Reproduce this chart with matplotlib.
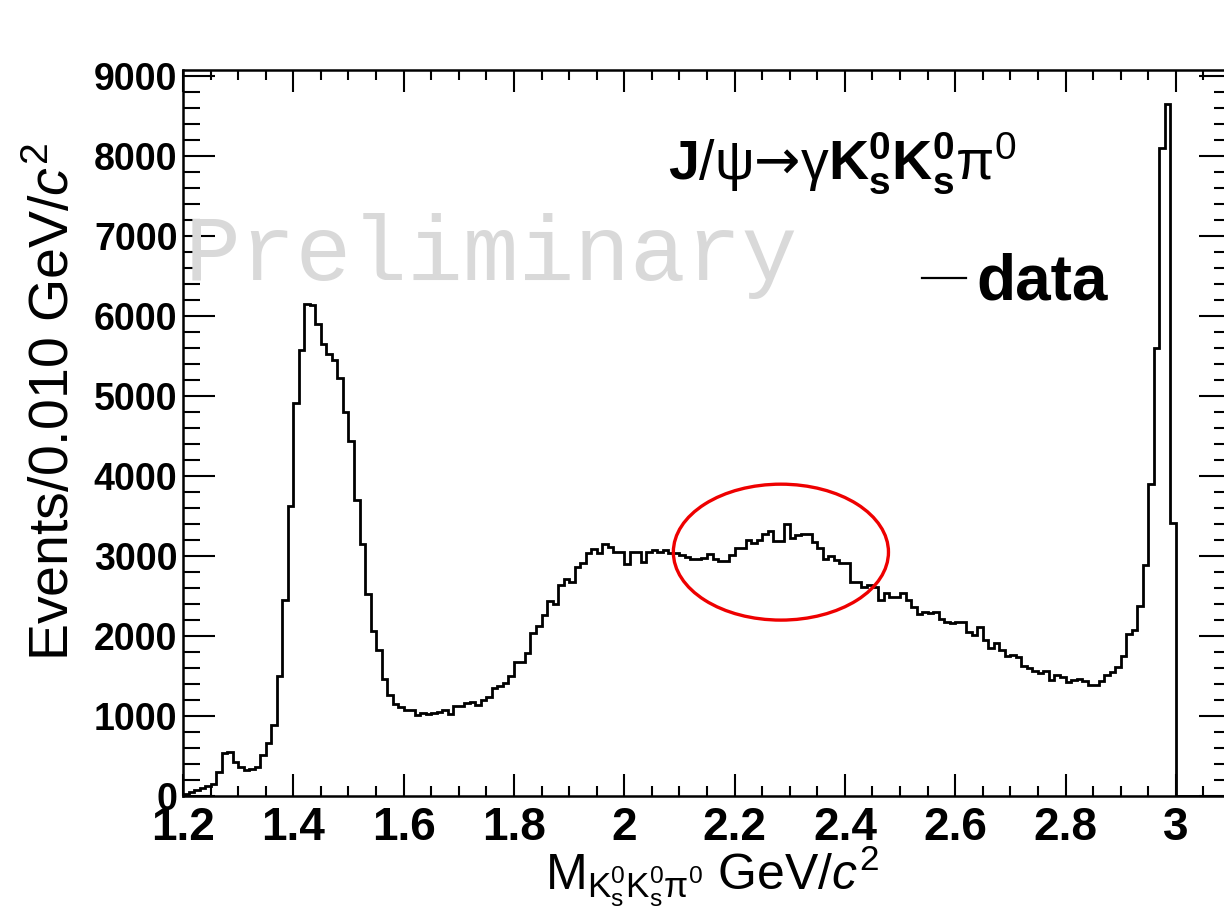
import numpy as np
import matplotlib
matplotlib.use("Agg")
import matplotlib.pyplot as plt
from matplotlib.ticker import MultipleLocator
from matplotlib.patches import Ellipse
from matplotlib.lines import Line2D

plt.rcParams["font.family"] = ["Liberation Sans", "DejaVu Sans"]
plt.rcParams["mathtext.fontset"] = "custom"
plt.rcParams["mathtext.rm"] = "Liberation Sans"
plt.rcParams["mathtext.it"] = "Liberation Sans:italic"
plt.rcParams["mathtext.bf"] = "Liberation Sans:bold"

# M(KsKspi0) histogram, 0.010 GeV bins starting at 1.20 GeV
bin_start = 1.20
bin_width = 0.01
counts = [
    30, 45, 75, 96, 130, 146, 304, 533, 554, 429,
    358, 325, 337, 358, 512, 658, 887, 1504, 2450, 3625,
    4920, 5580, 6150, 6140, 5900, 5650, 5530, 5450, 5230, 4800,
    4440, 3700, 3150, 2530, 2067, 1825, 1458, 1263, 1150, 1117,
    1075, 1075, 1013, 1042, 1025, 1042, 1054, 1075, 1025, 1129,
    1129, 1158, 1179, 1138, 1200, 1233, 1354, 1375, 1408, 1500,
    1679, 1679, 1783, 2033, 2125, 2263, 2440, 2400, 2638, 2708,
    2680, 2867, 2908, 3033, 3088, 3033, 3150, 3117, 3054, 3054,
    2900, 3054, 3054, 2929, 3054, 3075, 3054, 3075, 3033, 3033,
    3013, 2992, 2958, 2958, 2971, 3021, 2965, 2938, 2938, 3013,
    3096, 3096, 3208, 3167, 3208, 3283, 3317, 3188, 3188, 3400,
    3233, 3263, 3283, 3283, 3179, 3096, 2963, 3000, 2950, 2908,
    2908, 2679, 2679, 2617, 2638, 2617, 2450, 2533, 2492, 2492,
    2533, 2450, 2367, 2271, 2296, 2283, 2296, 2208, 2179, 2158,
    2171, 2171, 2054, 2013, 2108, 1950, 1846, 1908, 1825, 1750,
    1763, 1742, 1625, 1596, 1567, 1533, 1567, 1450, 1513, 1492,
    1429, 1450, 1468, 1440, 1383, 1383, 1434, 1508, 1553, 1610,
    1750, 2020, 2070, 2380, 2890, 3900, 5600, 8110, 8650, 3415,
    0, 0, 0, 0, 0, 0, 0, 0, 0, 0,
]
edges = np.round(bin_start + bin_width * np.arange(len(counts) + 1), 3)

xticks = [1.2, 1.4, 1.6, 1.8, 2.0, 2.2, 2.4, 2.6, 2.8, 3.0]
xtick_labels = ["1.2", "1.4", "1.6", "1.8", "2", "2.2", "2.4", "2.6", "2.8", "3"]
yticks = [0, 1000, 2000, 3000, 4000, 5000, 6000, 7000, 8000, 9000]

# highlighted region (red ellipse)
ell_center = (2.284, 3050)
ell_w, ell_h = 0.39, 1700

W, H = 1224, 919
fig = plt.figure(figsize=(W / 100, H / 100), dpi=100)
ax = fig.add_axes([183 / W, (H - 796) / H, (1231 - 183) / W, (796 - 70) / H])

ax.stairs(counts, edges, color="black", linewidth=2.0)
ax.add_patch(Ellipse(ell_center, ell_w, ell_h, fill=False, edgecolor="#ee0000", linewidth=2.4))

ax.set_xlim(1.2, 3.1)
ax.set_ylim(0, 9080)
ax.set_xticks(xticks)
ax.set_xticklabels(xtick_labels)
ax.set_yticks(yticks)
ax.set_yticklabels([str(v) for v in yticks])
ax.xaxis.set_minor_locator(MultipleLocator(0.05))
ax.yaxis.set_minor_locator(MultipleLocator(200))
ax.tick_params(which="both", direction="in", top=True, right=True, width=1.5, color="black")
ax.tick_params(axis="x", which="major", length=16, pad=7, labelsize=33)
ax.tick_params(axis="x", which="minor", length=7)
ax.tick_params(axis="y", which="major", length=23, pad=4, labelsize=27)
ax.tick_params(axis="y", which="minor", length=12)
for lab in ax.get_xticklabels() + ax.get_yticklabels():
    lab.set_fontweight("bold")
for sp in ax.spines.values():
    sp.set_linewidth(1.8)

fig.text(712 / W, (H - 889) / H, r"M$_{\mathrm{K^0_sK^0_s}\mathrm{\pi}^0}$ GeV/$c^2$",
         ha="center", va="baseline", fontsize=36)
fig.text(55 / W, (H - 402) / H, r"Events/0.010 GeV/$c^2$",
         rotation=90, ha="center", va="center", fontsize=40)

fig.text(185 / W, (H - 280) / H, "Preliminary", family="Liberation Mono",
         fontsize=67, color="#d9d9d9", ha="left", va="baseline")

# arrow drawn in DejaVu (wider glyph), math parts keep the custom fontset
fig.text(668 / W, (H - 180) / H,
         r"$\mathbf{J}/\mathrm{\psi}$→$\mathrm{\gamma}\mathbf{K^0_sK^0_s}\mathrm{\pi}^0$",
         family="DejaVu Sans", ha="left", va="baseline", fontsize=40)

fig.add_artist(Line2D([922 / W, 966 / W], [(H - 278) / H] * 2, color="black", linewidth=1.6))
fig.text(976 / W, (H - 300) / H, "data", ha="left", va="baseline",
         fontsize=46, fontweight="bold")

fig.savefig("out.png", dpi=100)
